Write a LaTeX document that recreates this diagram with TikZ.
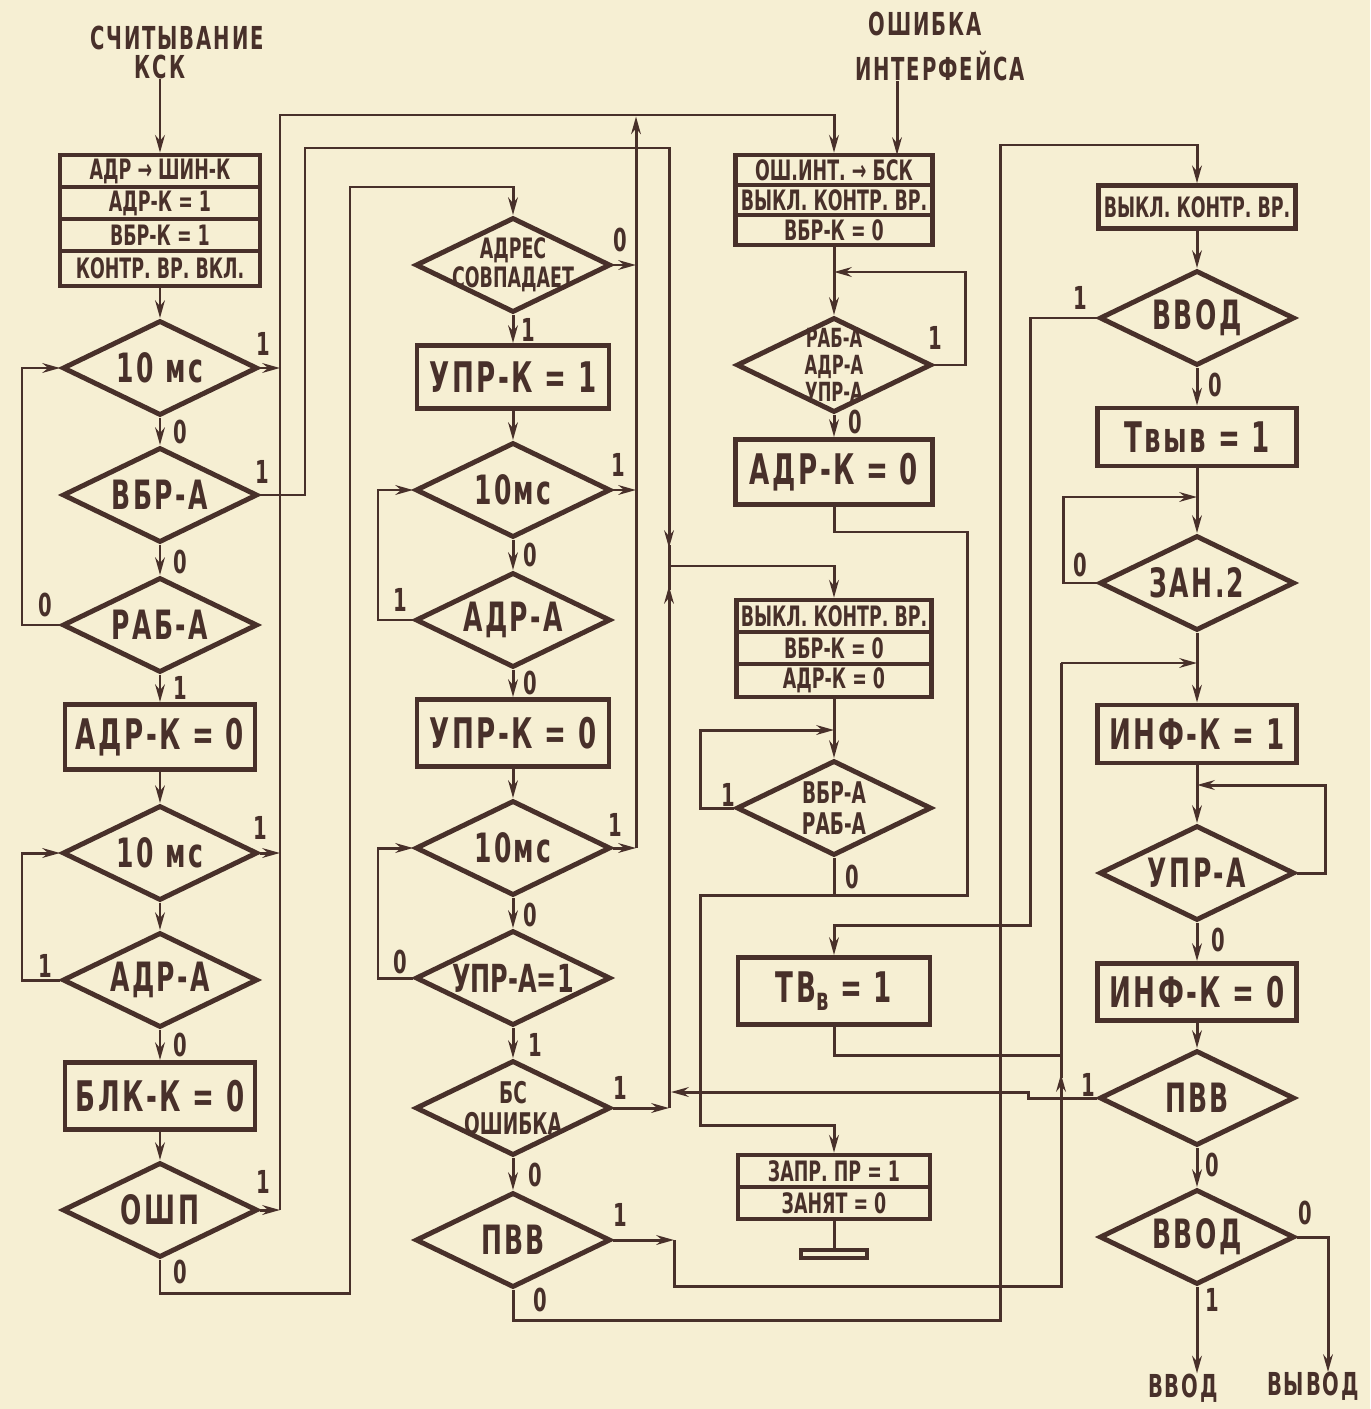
\documentclass[tikz,border=0pt]{standalone}
\usepackage{fontspec}
\usetikzlibrary{shapes.geometric,arrows.meta}
\newfontfamily\drw[FakeStretch=0.62]{DejaVu Sans}
\newfontfamily\drws[FakeStretch=0.62,LetterSpace=6]{DejaVu Sans}
\definecolor{paper}{RGB}{246,239,211}
\definecolor{ink}{RGB}{72,48,42}
\newcommand\fRow{\drw\bfseries\fontsize{16}{17}\selectfont}
\newcommand\fBig{\drws\bfseries\fontsize{24}{26}\selectfont}
\newcommand\fDia{\drws\bfseries\fontsize{23}{25}\selectfont}
\newcommand\fDiaS{\drw\bfseries\fontsize{15}{15.5}\selectfont}
\newcommand\fLab{\drw\bfseries\fontsize{18}{18}\selectfont}
\newcommand\fTit{\drws\bfseries\fontsize{18}{20}\selectfont}
\tikzset{
 conn/.style={draw=ink, line width=1.7pt},
 arr/.style={conn, -{Stealth[length=10pt,width=5.5pt]}},
 row/.style={draw=ink, line width=2.6pt, rectangle, inner sep=0pt, text=ink, font=\fRow},
 bx/.style={draw=ink, line width=2.8pt, rectangle, inner sep=0pt, text=ink, font=\fBig},
 dia/.style={draw=ink, line width=2.8pt, diamond, inner sep=0pt, minimum width=3.9cm, minimum height=1.9cm},
 dt/.style={text=ink, font=\fDia, align=center, inner sep=0pt},
 dts/.style={text=ink, font=\fDiaS, align=center, inner sep=0pt},
 lab/.style={text=ink, font=\fLab, inner sep=0pt},
 tit/.style={text=ink, font=\fTit, inner sep=0pt},
}
\begin{document}
\begin{tikzpicture}[x=0.02cm,y=-0.02cm]
\fill[paper] (0,0) rectangle (1370,1409);
\useasboundingbox (0,0) rectangle (1370,1409);

% ---------- column 1 ----------
\node[tit] (t1a) at (177,38) {СЧИТЫВАНИЕ};
\node[tit] (t1b) at (160,67) {КСК};
\node[row, minimum width=4cm, minimum height=0.64cm] (b1a) at (160,171) {АДР → ШИН-К};
\node[row, minimum width=4cm, minimum height=0.64cm] (b1b) at (160,203) {АДР-К = 1};
\node[row, minimum width=4cm, minimum height=0.64cm] (b1c) at (160,235) {ВБР-К = 1};
\node[row, minimum width=4cm, minimum height=0.70cm] (b1d) at (160,268.5) {КОНТР. ВР. ВКЛ.};
\node[dia, label={[dt]center:10 мс}] (d1) at (160,368) {};
\node[dia, label={[dt]center:ВБР-А}] (d2) at (160,495) {};
\node[dia, label={[dt]center:РАБ-А}] (d3) at (160,625) {};
\node[bx, minimum width=3.8cm, minimum height=1.3cm] (b2) at (160,737) {АДР-К = 0};
\node[dia, label={[dt]center:10 мс}] (d4) at (160,853) {};
\node[dia, label={[dt]center:АДР-А}] (d5) at (160,980) {};
\node[bx, minimum width=3.8cm, minimum height=1.34cm] (b3) at (160,1096) {БЛК-К = 0};
\node[dia, label={[dt]center:ОШП}] (d6) at (160,1210) {};

% ---------- column 2 ----------
\node[dia, label={[dts, font=\drw\bfseries\fontsize{16}{16.5}\selectfont]center:АДРЕС\\СОВПАДАЕТ}] (d7) at (513,265) {};
\node[bx, minimum width=3.84cm, minimum height=1.26cm] (b4) at (513,377) {УПР-К = 1};
\node[dia, label={[dt]center:10мс}] (d8) at (513,490) {};
\node[dia, label={[dt]center:АДР-А}] (d9) at (513,620) {};
\node[bx, minimum width=3.84cm, minimum height=1.34cm] (b5) at (513,733) {УПР-К = 0};
\node[dia, label={[dt]center:10мс}] (d10) at (513,848) {};
\node[dia, label={[dt, font=\drw\bfseries\fontsize{22}{24}\selectfont]center:УПР-А=1}] (d11) at (513,978) {};
\node[dia, label={[dts, font=\drw\bfseries\fontsize{17}{17.5}\selectfont]center:БС\\ОШИБКА}] (d12) at (513,1108) {};
\node[dia, label={[dt]center:ПВВ}] (d13) at (513,1240) {};

% ---------- column 3 ----------
\node[tit] (t2a) at (925,24) {ОШИБКА};
\node[tit] (t2b) at (940,66) {ИНТЕРФЕЙСА};
\node[row, minimum width=3.94cm, minimum height=0.6cm] (b6a) at (834,170) {ОШ.ИНТ. → БСК};
\node[row, minimum width=3.94cm, minimum height=0.6cm] (b6b) at (834,200) {ВЫКЛ. КОНТР. ВР.};
\node[row, minimum width=3.94cm, minimum height=0.6cm] (b6c) at (834,230) {ВБР-К = 0};
\coordinate (ie) at (897,155);
\node[dia, label={[dts]center:РАБ-А\\АДР-А\\УПР-А}] (d14) at (834,365) {};
\node[bx, minimum width=3.94cm, minimum height=1.3cm] (b7) at (834,472) {АДР-К = 0};
\node[row, minimum width=3.9cm, minimum height=0.64cm] (b8a) at (834,616) {ВЫКЛ. КОНТР. ВР.};
\node[row, minimum width=3.9cm, minimum height=0.64cm] (b8b) at (834,648) {ВБР-К = 0};
\node[row, minimum width=3.9cm, minimum height=0.66cm] (b8c) at (834,680.5) {АДР-К = 0};
\node[dia, label={[dts, font=\drw\bfseries\fontsize{17}{17.5}\selectfont]center:ВБР-А\\РАБ-А}] (d15) at (834,808) {};
\node[bx, minimum width=3.84cm, minimum height=1.34cm] (b9) at (834,991) {ТВ\raisebox{-0.35ex}{\fontsize{18}{18}\selectfont в} = 1};
\node[row, minimum width=3.84cm, minimum height=0.64cm] (b10a) at (834,1171) {ЗАПР. ПР = 1};
\node[row, minimum width=3.84cm, minimum height=0.64cm] (b10b) at (834,1203) {ЗАНЯТ = 0};
\node[draw=ink, fill=paper, line width=2pt, minimum width=1.32cm, minimum height=0.16cm, inner sep=0pt] (bar) at (834,1254) {};

% ---------- column 4 ----------
\node[row, minimum width=3.94cm, minimum height=0.86cm] (b11) at (1197,207) {ВЫКЛ. КОНТР. ВР.};
\node[dia, label={[dt]center:ВВОД}] (d16) at (1197,318) {};
\node[bx, minimum width=3.98cm, minimum height=1.16cm] (b12) at (1197,437) {Твыв = 1};
\node[dia, label={[dt]center:ЗАН.2}] (d17) at (1197,583) {};
\node[bx, minimum width=3.98cm, minimum height=1.16cm] (b13) at (1197,734) {ИНФ-К = 1};
\node[dia, label={[dt]center:УПР-А}] (d18) at (1197,873) {};
\node[bx, minimum width=3.98cm, minimum height=1.14cm] (b14) at (1197,992) {ИНФ-К = 0};
\node[dia, label={[dt]center:ПВВ}] (d19) at (1197,1098) {};
\node[dia, label={[dt]center:ВВОД}] (d20) at (1197,1237) {};
\node[tit] (o1) at (1183,1388) {ВВОД};
\node[tit] (o2) at (1313,1386) {ВЫВОД};

% ---------- connectors column 1 ----------
\draw[arr] (t1b.south) -- (b1a.north);
\draw[arr] (b1d.south) -- (d1.north);
\draw[arr] (d1.south) -- (d2.north);
\draw[arr] (d2.south) -- (d3.north);
\draw[arr] (d3.south) -- (b2.north);
\draw[arr] (b2.south) -- (d4.north);
\draw[arr] (d4.south) -- (d5.north);
\draw[arr] (d5.south) -- (b3.north);
\draw[arr] (b3.south) -- (d6.north);
\draw[arr] (d3.west) -- (22,625) |- (d1.west);
\draw[arr] (d5.west) -- (22,980) |- (d4.west);
\draw[arr] (d1.east) -- (280,368);
\draw[arr] (d4.east) -- (280,853);
\draw[arr] (d6.east) -- (280,1210);
\draw[arr] (280,1210) -- (280,115) -- (834,115) -- (b6a.north);
\draw[arr] (d2.east) -- (305,495) -- (305,148) -- (669,148) -- (669,548);
\draw[conn] (669,545) -- (669,566);
\draw[arr] (d6.south) -- (160,1293) -- (350,1293) -- (350,187) -- (513,187) -- (d7.north);

% ---------- connectors column 2 ----------
\draw[arr] (d7.south) -- (b4.north);
\draw[arr] (b4.south) -- (d8.north);
\draw[arr] (d8.south) -- (d9.north);
\draw[arr] (d9.south) -- (b5.north);
\draw[arr] (b5.south) -- (d10.north);
\draw[arr] (d10.south) -- (d11.north);
\draw[arr] (d11.south) -- (d12.north);
\draw[arr] (d12.south) -- (d13.north);
\draw[arr] (d9.west) -- (378,620) |- (d8.west);
\draw[arr] (d11.west) -- (378,978) |- (d10.west);
\draw[arr] (d7.east) -- (636,265);
\draw[arr] (d8.east) -- (636,490);
\draw[arr] (d10.east) -- (636,848);
\draw[arr] (636,848) -- (636,116.5);
\draw[arr] (d12.east) -- (669,1108);
\draw[arr] (669,1108) -- (669,586);
\draw[conn] (669,590) -- (669,566);
\draw[arr] (669,566) -- (834,566) -- (b8a.north);
\draw[arr] (d13.east) -- (674,1240);
\draw[arr] (674,1240) -- (674,1286) -- (1061,1286) -- (1061,1074);
\draw[conn] (1061,1078) -- (1061,663);
\draw[arr] (1061,663) -- (1197,663);
\draw[arr] (d13.south) -- (513,1320) -- (1000,1320) -- (1000,145) -- (1197,145) -- (b11.north);

% ---------- connectors column 3 ----------
\draw[arr] (t2b.south -| ie) -- (ie);
\draw[arr] (b6c.south) -- (d14.north);
\draw[arr] (d14.east) -- (965,365) -- (965,272) -- (834,272);
\draw[arr] (d14.south) -- (b7.north);
\draw[arr] (b7.south) -- (834,532) -- (967,532) -- (967,895) -- (700,895) -- (700,1125) -- (834,1125) -- (b10a.north);
\draw[conn] (d15.south) -- (834,895);
\draw[arr] (b8c.south) -- (d15.north);
\draw[arr] (d15.west) -- (700,808) -- (700,730) -- (834,730);
\draw[arr] (d16.west) -- (1030,318) -- (1030,925) -- (834,925) -- (b9.north);
\draw[conn] (b9.south) -- (834,1055) -- (1061,1055);
\draw[conn] (b10b.south) -- (bar.north);

% ---------- connectors column 4 ----------
\draw[arr] (b11.south) -- (d16.north);
\draw[arr] (d16.south) -- (b12.north);
\draw[arr] (b12.south) -- (d17.north);
\draw[arr] (d17.west) -- (1063,583) -- (1063,497) -- (1197,497);
\draw[arr] (d17.south) -- (b13.north);
\draw[arr] (b13.south) -- (d18.north);
\draw[arr] (d18.east) -- (1325,873) -- (1325,785) -- (1197,785);
\draw[arr] (d18.south) -- (b14.north);
\draw[arr] (b14.south) -- (d19.north);
\draw[arr] (d19.west) -- (1028,1098) -- (1028,1092) -- (671,1092);
\draw[arr] (d19.south) -- (d20.north);
\draw[arr] (d20.south) -- (d20.south |- o1.north);
\draw[arr] (d20.east) -- (1328,1237) -- (1328,1372);

% ---------- branch labels ----------
\node[lab] at (263,344) {1};
\node[lab] at (180,432) {0};
\node[lab] at (262,472) {1};
\node[lab] at (180,562) {0};
\node[lab] at (45,605) {0};
\node[lab] at (180,688) {1};
\node[lab] at (260,828) {1};
\node[lab] at (45,966) {1};
\node[lab] at (180,1045) {0};
\node[lab] at (263,1182) {1};
\node[lab] at (180,1272) {0};
\node[lab] at (620,240) {0};
\node[lab] at (528,330) {1};
\node[lab] at (618,465) {1};
\node[lab] at (530,555) {0};
\node[lab] at (400,600) {1};
\node[lab] at (530,683) {0};
\node[lab] at (615,825) {1};
\node[lab] at (530,915) {0};
\node[lab] at (400,962) {0};
\node[lab] at (535,1045) {1};
\node[lab] at (620,1088) {1};
\node[lab] at (535,1175) {0};
\node[lab] at (620,1215) {1};
\node[lab] at (540,1300) {0};
\node[lab] at (935,338) {1};
\node[lab] at (855,422) {0};
\node[lab] at (728,795) {1};
\node[lab] at (852,877) {0};
\node[lab] at (1080,298) {1};
\node[lab] at (1215,385) {0};
\node[lab] at (1080,565) {0};
\node[lab] at (1218,940) {0};
\node[lab] at (1088,1085) {1};
\node[lab] at (1212,1165) {0};
\node[lab] at (1305,1213) {0};
\node[lab] at (1212,1300) {1};
\end{tikzpicture}
\end{document}
